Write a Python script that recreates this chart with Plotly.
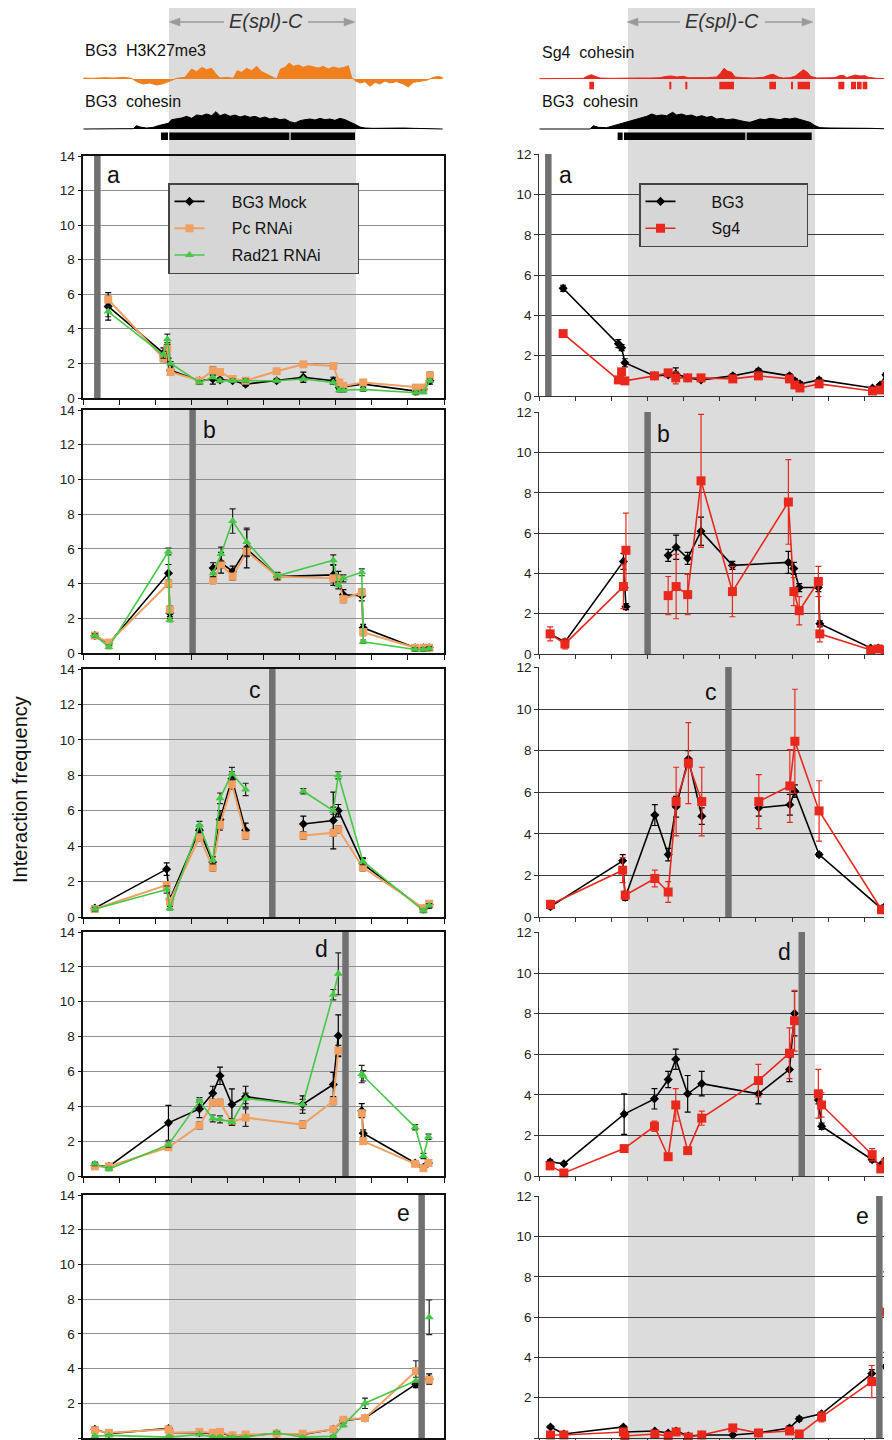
import plotly.graph_objects as go

# page offset of the plot div (default body margin) is compensated below
OFF = 8
W, H = 892 - OFF, 1440 - OFF
FONT = "Liberation Sans, Arial, sans-serif"

# ---------------- genome tracks (track coordinates) ----------------
h3k_pos = [250,280,310,340,370,395,410,430,450,470,490,510,530,555,575,590,605,620,635,648,660,680,700,712,725,740,755,770,785,800,815,830,842,855,868,880,895,910,925,940,955,970,985,1000,1015,1030,1045,1055,1065,1080,1095,1110,1125,1140,1155,1170,1190,1210,1225,1240,1260,1280,1300,1315,1328]
h3k_sig = [3,2,4,3,5,2,-8,-15,-12,-18,-14,-5,2,5,30,22,35,28,32,15,3,5,2,25,20,32,25,38,22,15,8,0,30,35,48,38,42,35,40,36,33,38,30,36,32,34,40,5,-5,-12,-8,-22,-10,-15,-6,-12,-8,-15,-24,-10,-6,-4,5,8,4]
coh_l_pos = [250,300,350,400,410,420,440,460,475,490,505,515,530,545,560,575,590,605,620,635,648,660,675,690,705,720,735,750,765,780,795,810,825,840,855,870,885,900,915,930,945,960,975,990,1005,1020,1035,1050,1065,1080,1095,1120,1150,1180,1210,1240,1270,1300,1328]
coh_l_sig = [0,0,0,1,10,6,3,5,10,14,17,28,30,33,38,32,42,40,45,40,52,40,45,38,42,36,40,35,38,32,36,30,33,28,30,22,18,25,28,30,27,32,28,30,26,32,28,22,14,6,3,2,3,2,3,2,1,1,0]
sg4_pos = [268,300,350,400,415,425,435,450,480,510,540,570,600,630,650,665,680,700,715,740,770,800,812,822,832,845,855,880,910,940,958,970,985,1000,1020,1035,1048,1060,1072,1082,1100,1130,1155,1168,1180,1190,1205,1215,1230,1245,1255,1280,1326]
sg4_sig = [1,1,1,2,10,13,8,3,2,3,2,3,3,4,8,9,6,8,4,3,4,6,18,32,24,20,6,4,3,5,12,14,6,3,4,8,18,28,20,8,3,3,4,10,11,4,10,12,9,10,5,2,1]
coh_r_pos = [268,420,430,445,470,490,510,530,545,560,575,590,605,620,635,650,668,680,695,710,725,740,755,770,785,800,815,830,850,870,885,900,915,930,945,960,975,990,1005,1020,1035,1050,1065,1080,1095,1110,1140,1170,1200,1230,1260,1326]
coh_r_sig = [0,0,10,5,4,10,15,20,25,30,35,38,45,40,42,40,50,42,45,40,42,36,40,35,38,30,32,28,30,25,22,20,26,30,28,32,30,28,32,30,33,28,25,20,10,4,3,3,2,3,2,0]
bg3_domain_l = [[483, 504], [508, 868], [872, 1065]]
bg3_domain_r = [[503, 518], [522, 886], [890, 1085]]
sg4_peaks = [[418,432],[658,664],[706,712],[808,852],[958,978],[1023,1029],[1043,1080],[1165,1183],[1203,1218],[1221,1235],[1238,1252]]

# ---------------- left column: BG3 Mock / Pc RNAi / Rad21 RNAi ----------------
la_x = [0.69, 2.22, 2.33, 2.42, 3.22, 3.59, 3.79, 4.14, 4.50, 5.36, 6.10, 6.93, 7.10, 7.21, 7.76, 9.22, 9.43, 9.61]
la_mock = [5.3, 2.6, 2.3, 1.6, 1.0, 1.1, 1.05, 1.0, 0.8, 1.0, 1.2, 1.0, 0.6, 0.65, 0.8, 0.4, 0.5, 1.0]
la_mock_e = [0.8, 0.3, 0.2, 0.2, 0.1, 0.3, 0.1, 0.1, 0.1, 0.1, 0.3, 0.2, 0.1, 0.1, 0.1, 0.1, 0.1, 0.2]
la_pc = [5.7, 2.3, 2.9, 1.5, 1.0, 1.6, 1.5, 1.1, 1.0, 1.55, 1.95, 1.85, 0.9, 0.7, 0.9, 0.6, 0.6, 1.3]
la_pc_e = [0.2, 0.2, 0.3, 0.1, 0.1, 0.2, 0.1, 0.1, 0.1, 0.1, 0.1, 0.1, 0.1, 0.1, 0.1, 0.1, 0.1, 0.2]
la_rad = [5.0, 2.5, 3.4, 2.0, 0.9, 1.2, 1.0, 1.0, 1.0, 1.0, 1.1, 0.9, 0.45, 0.45, 0.5, 0.3, 0.35, 1.0]
la_rad_e = [0.3, 0.2, 0.3, 0.1, 0.1, 0.1, 0.1, 0.1, 0.1, 0.1, 0.1, 0.1, 0.1, 0.1, 0.1, 0.1, 0.1, 0.1]

lb_x = [0.32, 0.71, 2.36, 2.40, 3.60, 3.82, 4.14, 4.53, 5.38, 6.93, 7.07, 7.21, 7.72, 7.76, 9.20, 9.43, 9.59]
lb_mock = [1.0, 0.55, 4.6, 2.3, 4.9, 5.2, 4.7, 6.0, 4.4, 4.5, 4.3, 3.35, 3.3, 1.45, 0.3, 0.3, 0.3]
lb_mock_e = [0.1, 0.1, 0.5, 0.2, 0.3, 0.6, 0.3, 1.1, 0.2, 0.6, 0.4, 0.3, 0.3, 0.2, 0.1, 0.1, 0.1]
lb_pc = [1.0, 0.6, 4.0, 2.5, 4.2, 5.1, 4.4, 5.85, 4.4, 4.3, 4.3, 3.1, 3.5, 1.2, 0.3, 0.3, 0.3]
lb_pc_e = [0.1, 0.1, 0.2, 0.2, 0.2, 0.2, 0.2, 0.3, 0.2, 0.2, 0.2, 0.2, 0.2, 0.2, 0.1, 0.1, 0.1]
lb_rad = [1.0, 0.35, 5.85, 1.9, 4.6, 5.7, 7.6, 6.4, 4.45, 5.35, 3.9, 4.3, 4.65, 0.65, 0.2, 0.2, 0.25]
lb_rad_e = [0.1, 0.1, 0.2, 0.1, 0.2, 0.4, 0.7, 0.8, 0.2, 0.3, 0.2, 0.2, 0.2, 0.1, 0.1, 0.1, 0.1]

lc_x = [0.32, 2.31, 2.40, 3.22, 3.59, 3.79, 4.12, 4.50, 6.10, 6.93, 7.07, 7.75, 9.43, 9.59]
lc_mock = [0.5, 2.7, 1.0, 4.9, 3.1, 5.5, 7.8, 4.9, 5.25, 5.45, 6.0, 3.0, 0.45, 0.7]
lc_mock_e = [0.1, 0.35, 0.2, 0.3, 0.3, 0.5, 0.4, 0.4, 0.45, 1.6, 0.35, 0.3, 0.1, 0.2]
lc_pc = [0.45, 1.8, 0.9, 4.5, 2.8, 5.2, 7.5, 4.6, 4.6, 4.75, 4.95, 2.8, 0.5, 0.75]
lc_pc_e = [0.1, 0.2, 0.2, 0.2, 0.2, 0.3, 0.3, 0.2, 0.2, 0.2, 0.2, 0.2, 0.1, 0.1]
lc_rad = [0.45, 1.55, 0.5, 5.2, 3.2, 6.7, 8.1, 7.2, 7.1, 6.0, 8.0, 3.15, 0.35, 0.65]
lc_rad_e = [0.1, 0.2, 0.1, 0.2, 0.2, 0.3, 0.35, 0.35, 0.15, 0.2, 0.2, 0.2, 0.1, 0.1]

ld_x = [0.32, 0.71, 2.36, 3.22, 3.59, 3.79, 4.12, 4.50, 6.08, 6.93, 7.07, 7.72, 7.76, 9.20, 9.43, 9.57]
ld_mock = [0.6, 0.55, 3.05, 3.85, 4.75, 5.75, 4.1, 4.55, 4.1, 5.25, 8.05, 3.75, 2.45, 0.75, 0.5, 0.75]
ld_mock_e = [0.1, 0.1, 1.0, 0.5, 0.4, 0.5, 0.9, 0.6, 0.5, 0.7, 1.2, 0.4, 0.2, 0.1, 0.1, 0.1]
ld_pc = [0.55, 0.55, 1.65, 2.9, 4.2, 4.2, 3.1, 3.35, 2.95, 4.3, 7.2, 3.6, 2.0, 0.7, 0.45, 0.75]
ld_pc_e = [0.1, 0.1, 0.15, 0.2, 0.2, 0.2, 0.2, 0.5, 0.2, 0.2, 0.3, 0.2, 0.15, 0.1, 0.1, 0.1]
ld_rad = [0.7, 0.4, 1.8, 4.3, 3.3, 3.25, 3.1, 4.45, 4.1, 10.4, 11.6, 5.85, 5.75, 2.8, 1.15, 2.25]
ld_rad_e = [0.1, 0.1, 0.15, 0.2, 0.2, 0.2, 0.2, 0.3, 0.3, 0.3, 1.2, 0.5, 0.3, 0.15, 0.15, 0.15]

le_x = [0.32, 0.71, 2.36, 2.40, 3.22, 3.59, 3.79, 4.14, 4.50, 5.36, 6.08, 6.93, 7.21, 7.81, 9.22, 9.59]
le_mock = [0.5, 0.25, 0.55, 0.3, 0.3, 0.25, 0.3, 0.1, 0.15, 0.25, 0.2, 0.5, 1.0, 1.15, 3.1, 3.4]
le_mock_e = [0.15, 0.05, 0.1, 0.05, 0.05, 0.05, 0.05, 0.05, 0.05, 0.05, 0.05, 0.1, 0.1, 0.1, 0.2, 0.3]
le_pc = [0.45, 0.3, 0.5, 0.3, 0.35, 0.3, 0.35, 0.15, 0.2, 0.25, 0.25, 0.5, 1.05, 1.15, 3.85, 3.35]
le_pc_e = [0.1, 0.05, 0.1, 0.05, 0.05, 0.05, 0.05, 0.05, 0.05, 0.05, 0.05, 0.1, 0.1, 0.1, 0.6, 0.2]
le_rad = [0.1, 0.15, 0.05, 0.05, 0.2, 0.05, 0.05, 0.05, 0.05, 0.3, 0.05, 0.1, 0.75, 2.0, 3.3, 6.95]
le_rad_e = [0.05, 0.05, 0.05, 0.05, 0.05, 0.05, 0.05, 0.05, 0.05, 0.05, 0.05, 0.05, 0.1, 0.3, 0.2, 1.0]

# viewpoint (anchor) positions
left_anchor = [0.39, 3.03, 5.24, 7.27, 9.38]
right_anchor = [0.25, 3.00, 5.24, 7.27, 9.42]
panel_letters = ["a", "b", "c", "d", "e"]

# ---------------- right column: BG3 / Sg4 ----------------
ra_x = [0.66, 2.19, 2.28, 2.37, 3.19, 3.57, 3.78, 4.11, 4.48, 5.36, 6.07, 6.93, 7.08, 7.22, 7.75, 9.23, 9.44, 9.60]
ra_bg3 = [5.35, 2.6, 2.4, 1.65, 1.0, 1.05, 1.1, 0.9, 0.8, 1.0, 1.25, 1.0, 0.75, 0.6, 0.8, 0.4, 0.55, 1.05]
ra_bg3_e = [0.15, 0.2, 0.15, 0.2, 0.05, 0.1, 0.3, 0.1, 0.05, 0.1, 0.1, 0.1, 0.1, 0.1, 0.1, 0.05, 0.05, 0.1]
ra_sg4 = [3.1, 0.8, 1.2, 0.75, 1.0, 1.15, 0.9, 0.9, 0.9, 0.85, 1.0, 0.85, 0.55, 0.4, 0.6, 0.25, 0.3, 0.55]
ra_sg4_e = [0.1, 0.1, 0.15, 0.1, 0.05, 0.1, 0.3, 0.1, 0.05, 0.05, 0.05, 0.05, 0.05, 0.05, 0.05, 0.05, 0.05, 0.05]

rb_x = [0.30, 0.71, 2.33, 2.40, 3.57, 3.79, 4.11, 4.48, 5.35, 6.90, 7.05, 7.20, 7.73, 7.77, 9.18, 9.39, 9.58]
rb_bg3 = [1.0, 0.6, 4.6, 2.35, 4.9, 5.3, 4.75, 6.1, 4.4, 4.55, 4.25, 3.3, 3.3, 1.5, 0.3, 0.3, 0.25]
rb_bg3_e = [0.1, 0.1, 0.4, 0.15, 0.3, 0.6, 0.3, 0.7, 0.2, 0.55, 0.3, 0.2, 0.2, 0.15, 0.05, 0.05, 0.05]
rb_sg4 = [1.0, 0.5, 3.35, 5.15, 2.9, 3.35, 2.95, 8.6, 3.1, 7.55, 3.1, 2.15, 3.6, 1.0, 0.2, 0.25, 0.2]
rb_sg4_e = [0.35, 0.25, 1.1, 1.85, 0.95, 1.6, 1.0, 3.3, 1.25, 2.1, 0.7, 0.7, 0.75, 0.4, 0.05, 0.05, 0.05]

rc_x = [0.31, 2.31, 2.38, 3.20, 3.57, 3.79, 4.13, 4.50, 6.08, 6.94, 7.08, 7.75, 9.48, 9.60]
rc_bg3 = [0.5, 2.7, 0.95, 4.9, 3.0, 5.3, 7.6, 4.85, 5.25, 5.4, 6.05, 3.0, 0.4, 0.55]
rc_bg3_e = [0.1, 0.3, 0.15, 0.5, 0.3, 0.5, 0.4, 0.4, 0.4, 0.5, 0.3, 0.1, 0.05, 0.05]
rc_sg4 = [0.6, 2.25, 1.05, 1.85, 1.2, 5.55, 7.4, 5.55, 5.55, 6.3, 8.45, 5.1, 0.35, 0.35]
rc_sg4_e = [0.2, 0.6, 0.2, 0.4, 0.5, 1.65, 1.95, 1.65, 1.3, 1.75, 2.5, 1.45, 0.05, 0.05]

rd_x = [0.30, 0.68, 2.35, 3.19, 3.57, 3.78, 4.11, 4.50, 6.07, 6.93, 7.07, 7.73, 7.82, 9.22, 9.46, 9.60]
rd_bg3 = [0.7, 0.6, 3.05, 3.8, 4.75, 5.75, 4.05, 4.55, 4.05, 5.25, 8.0, 3.75, 2.45, 0.8, 0.55, 0.8]
rd_bg3_e = [0.1, 0.05, 1.0, 0.5, 0.4, 0.5, 0.9, 0.6, 0.5, 0.6, 1.1, 0.2, 0.15, 0.1, 0.05, 0.1]
rd_sg4 = [0.5, 0.15, 1.35, 2.45, 0.95, 3.5, 1.25, 2.85, 4.7, 6.05, 7.65, 4.05, 3.5, 1.05, 0.35, 0.65]
rd_sg4_e = [0.1, 0.05, 0.1, 0.25, 0.05, 0.8, 0.1, 0.35, 0.8, 1.25, 1.5, 1.2, 0.6, 0.3, 0.05, 0.1]

re_x = [0.31, 0.68, 2.33, 2.37, 3.20, 3.57, 3.79, 4.13, 4.50, 5.36, 6.07, 6.93, 7.20, 7.82, 9.21, 9.60]
re_bg3 = [0.55, 0.2, 0.55, 0.3, 0.35, 0.25, 0.35, 0.1, 0.15, 0.15, 0.25, 0.5, 0.95, 1.2, 3.2, 3.55]
re_bg3_e = [0.05, 0.05, 0.05, 0.05, 0.05, 0.05, 0.05, 0.05, 0.05, 0.05, 0.05, 0.1, 0.1, 0.1, 0.2, 0.1]
re_sg4 = [0.15, 0.15, 0.3, 0.1, 0.2, 0.1, 0.3, 0.05, 0.15, 0.5, 0.25, 0.35, 0.2, 1.05, 2.8, 6.25]
re_sg4_e = [0.05, 0.05, 0.1, 0.05, 0.05, 0.05, 0.1, 0.05, 0.05, 0.1, 0.05, 0.1, 0.05, 0.25, 0.8, 2.0]

left_panels = [
    (la_x, [(la_mock, la_mock_e), (la_pc, la_pc_e), (la_rad, la_rad_e)]),
    (lb_x, [(lb_mock, lb_mock_e), (lb_pc, lb_pc_e), (lb_rad, lb_rad_e)]),
    (lc_x, [(lc_mock, lc_mock_e), (lc_pc, lc_pc_e), (lc_rad, lc_rad_e)]),
    (ld_x, [(ld_mock, ld_mock_e), (ld_pc, ld_pc_e), (ld_rad, ld_rad_e)]),
    (le_x, [(le_mock, le_mock_e), (le_pc, le_pc_e), (le_rad, le_rad_e)]),
]
right_panels = [
    (ra_x, [(ra_bg3, ra_bg3_e), (ra_sg4, ra_sg4_e)]),
    (rb_x, [(rb_bg3, rb_bg3_e), (rb_sg4, rb_sg4_e)]),
    (rc_x, [(rc_bg3, rc_bg3_e), (rc_sg4, rc_sg4_e)]),
    (rd_x, [(rd_bg3, rd_bg3_e), (rd_sg4, rd_sg4_e)]),
    (re_x, [(re_bg3, re_bg3_e), (re_sg4, re_sg4_e)]),
]

left_names = ["BG3 Mock", "Pc RNAi", "Rad21 RNAi"]
right_names = ["BG3", "Sg4"]
left_styles = [
    dict(color="#000000", symbol="diamond", size=7, lw=1.6, ecolor="#000000"),
    dict(color="#F0A062", symbol="square", size=8, lw=2.0, ecolor="#222222"),
    dict(color="#46C846", symbol="triangle-up", size=8, lw=1.6, ecolor="#222222"),
]
right_styles = [
    dict(color="#000000", symbol="diamond", size=7, lw=1.6, ecolor="#000000"),
    dict(color="#E8281C", symbol="square", size=9, lw=1.6, ecolor="#E8281C"),
]


# ---------------- geometry (page pixels -> paper) ----------------
def px_x(p):
    return (p - OFF) / W


def px_y(p):
    return 1 - (p - OFF) / H


def ydom(top_px, bot_px):
    return [px_y(bot_px), px_y(top_px)]


left_xdom = [px_x(83.3), px_x(444.0)]
right_xdom = [px_x(539.3), 1.0]
left_ydoms = [ydom(156, 398), ydom(410, 653), ydom(669, 917), ydom(932, 1176), ydom(1195, 1438)]
right_ydoms = [ydom(154, 396), ydom(412, 654), ydom(667, 917), ydom(932, 1176), ydom(1196, 1438)]
left_letter_pos = [(0.85, 12.9), (3.51, 12.85), (4.76, 12.8), (6.6, 13.0), (8.89, 12.95)]
right_letter_pos = [(0.73, 10.96), (3.45, 10.93), (4.76, 10.83), (6.79, 11.05), (8.95, 11.04)]


def gapped(xs, ys, es, anchor):
    X, Y, E = [], [], []
    for i in range(len(xs)):
        if i > 0 and xs[i - 1] < anchor < xs[i]:
            X.append(None); Y.append(None); E.append(None)
        X.append(xs[i]); Y.append(ys[i]); E.append(es[i])
    return X, Y, E


def ax_id(i):
    return "" if i == 1 else str(i)


nb = "\u00a0"
left_labels = [nb * 5 + "BG3 Mock" + nb * 9, nb * 5 + "Pc RNAi" + nb * 9, nb * 5 + "Rad21 RNAi" + nb * 7]
right_labels = [nb * 7 + "BG3" + nb * 13, nb * 7 + "Sg4" + nb * 13]

fig = go.Figure()
layout = {}
shapes = []
annotations = []

# ---- panels ----
for col in range(2):
    panels = left_panels if col == 0 else right_panels
    labels = left_labels if col == 0 else right_labels
    styles = left_styles if col == 0 else right_styles
    anchors = left_anchor if col == 0 else right_anchor
    ydoms = left_ydoms if col == 0 else right_ydoms
    letters_pos = left_letter_pos if col == 0 else right_letter_pos
    for p in range(5):
        idx = col * 5 + p + 1
        aid = ax_id(idx)
        xs, series = panels[p]
        for s, (ys, es) in enumerate(series):
            X, Y, E = gapped(xs, ys, es, anchors[p])
            st = styles[s]
            fig.add_trace(go.Scatter(
                x=X, y=Y, xaxis="x" + aid, yaxis="y" + aid,
                mode="lines+markers", name=labels[s],
                legend="legend" if col == 0 else "legend2",
                legendgroup=f"c{col}s{s}",
                showlegend=(p == 0), connectgaps=False, cliponaxis=False,
                line=dict(color=st["color"], width=st["lw"]),
                marker=dict(color=st["color"], symbol=st["symbol"], size=st["size"]),
                error_y=dict(type="data", array=E, visible=True, color=st["ecolor"],
                             thickness=1.2, width=3),
                hoverinfo="skip",
            ))
        if col == 0:
            xa = dict(domain=left_xdom, range=[0, 10], anchor="y" + aid,
                      showline=True, mirror=True, linecolor="#111", linewidth=1.6,
                      ticks="outside", tickvals=list(range(0, 11)), ticklen=5,
                      tickcolor="#111", showticklabels=False, showgrid=False, zeroline=False)
            ya = dict(domain=ydoms[p], range=[0, 14], anchor="x" + aid,
                      showline=True, mirror=True, linecolor="#111", linewidth=1.6,
                      ticks="outside", tickvals=list(range(0, 15, 2)), ticklen=4,
                      tickcolor="#111", showgrid=True, gridcolor="#8f8f8f", gridwidth=1.2,
                      zeroline=False, tickfont=dict(size=13.5, family=FONT, color="#222"))
        else:
            xa = dict(domain=right_xdom, range=[0, 9.77], anchor="y" + aid,
                      showline=True, mirror=False, linecolor="#333", linewidth=1.2,
                      ticks="outside", tickvals=list(range(0, 10)), ticklen=4,
                      tickcolor="#333", showticklabels=False, showgrid=False, zeroline=False)
            ya = dict(domain=ydoms[p], range=[0, 12.02], anchor="x" + aid,
                      showline=True, linecolor="#333", linewidth=1.2,
                      ticks="outside", tickvals=list(range(0, 13, 2)), ticklen=4,
                      tickcolor="#333", showgrid=True, gridcolor="#3c3c3c", gridwidth=1.2,
                      zeroline=False, tickfont=dict(size=13.5, family=FONT, color="#222"))
        layout["xaxis" + aid] = xa
        layout["yaxis" + aid] = ya
        a = anchors[p]
        shapes.append(dict(type="rect", xref="x" + aid, yref="y" + aid + " domain",
                           x0=a - 0.09, x1=a + 0.09, y0=0, y1=1,
                           fillcolor="#707070", line=dict(width=0), layer="above"))
        lx, ly = letters_pos[p]
        annotations.append(dict(x=lx, y=ly, xref="x" + aid, yref="y" + aid,
                                text=panel_letters[p], showarrow=False,
                                xanchor="center", yanchor="middle",
                                font=dict(size=23, family=FONT, color="#111")))

# ---- genome tracks ----
track_defs = [
    (11, [250, 1332], (60, 90), [-33, 57], h3k_pos, h3k_sig, "#F07F1E", left_xdom),
    (12, [250, 1332], (105, 131), [-6, 72], coh_l_pos, coh_l_sig, "#000000", left_xdom),
    (13, [268, 1326], (60, 90), [-33, 57], sg4_pos, sg4_sig, "#E8281C", right_xdom),
    (14, [268, 1326], (105, 131), [-6, 72], coh_r_pos, coh_r_sig, "#000000", right_xdom),
]
for idx, xr, (t, b), yr, pos, sig, colr, xd in track_defs:
    aid = ax_id(idx)
    fig.add_trace(go.Scatter(x=pos, y=sig, xaxis="x" + aid, yaxis="y" + aid,
                             mode="lines", fill="tozeroy", fillcolor=colr,
                             line=dict(color=colr, width=1), showlegend=False,
                             hoverinfo="skip"))
    layout["xaxis" + aid] = dict(domain=xd, range=xr, anchor="y" + aid, visible=False)
    layout["yaxis" + aid] = dict(domain=ydom(t, b), range=yr, anchor="x" + aid, visible=False)

for x0, x1 in bg3_domain_l:
    shapes.append(dict(type="rect", xref="x12", yref="paper", x0=x0, x1=x1,
                       y0=px_y(140), y1=px_y(132.5), fillcolor="#000", line=dict(width=0)))
for x0, x1 in bg3_domain_r:
    shapes.append(dict(type="rect", xref="x14", yref="paper", x0=x0, x1=x1,
                       y0=px_y(140), y1=px_y(132.5), fillcolor="#000", line=dict(width=0)))
for x0, x1 in sg4_peaks:
    shapes.append(dict(type="rect", xref="x13", yref="paper", x0=x0, x1=x1,
                       y0=px_y(89.3), y1=px_y(81.7), fillcolor="#E8281C", line=dict(width=0)))

# E(spl)-C shaded band through the whole column
for x0, x1 in [(169, 356), (628, 815)]:
    shapes.insert(0, dict(type="rect", xref="paper", yref="paper", x0=px_x(x0), x1=px_x(x1),
                          y0=0, y1=px_y(8), fillcolor="#dcdcdc", line=dict(width=0),
                          layer="below"))

hdr_font = dict(size=16, family=FONT, color="#111")
for txt, xpx, ypx in [("BG3" + nb * 2 + "H3K27me3", 83, 50), ("BG3" + nb * 2 + "cohesin", 83, 101),
                      ("Sg4" + nb * 2 + "cohesin", 540, 52), ("BG3" + nb * 2 + "cohesin", 540, 101)]:
    annotations.append(dict(x=px_x(xpx), y=px_y(ypx), xref="paper", yref="paper",
                            text=txt, showarrow=False, xanchor="left", yanchor="middle",
                            font=hdr_font))

# E(spl)-C label with double-headed grey arrow (line pieces + arrowheads)
ARW = "#9a9a9a"
ay_px = 22
for cx, lt, lr, rt, rr in [(266, 169, 224, 355, 308), (722, 627, 680, 813, 765)]:
    annotations.append(dict(x=px_x(cx), y=px_y(21), xref="paper", yref="paper",
                            text="<i>E(spl)-C</i>", showarrow=False,
                            xanchor="center", yanchor="middle",
                            font=dict(size=20, family=FONT, color="#333")))
    shapes.append(dict(type="line", xref="paper", yref="paper", x0=px_x(lt + 6), x1=px_x(lr),
                       y0=px_y(ay_px), y1=px_y(ay_px), line=dict(color=ARW, width=1.6)))
    shapes.append(dict(type="line", xref="paper", yref="paper", x0=px_x(rr), x1=px_x(rt - 6),
                       y0=px_y(ay_px), y1=px_y(ay_px), line=dict(color=ARW, width=1.6)))
    shapes.append(dict(type="path", xref="paper", yref="paper", fillcolor=ARW,
                       line=dict(color=ARW, width=0.5),
                       path=f"M {px_x(lt)},{px_y(ay_px)} L {px_x(lt + 11)},{px_y(ay_px - 4)} "
                            f"L {px_x(lt + 11)},{px_y(ay_px + 4)} Z"))
    shapes.append(dict(type="path", xref="paper", yref="paper", fillcolor=ARW,
                       line=dict(color=ARW, width=0.5),
                       path=f"M {px_x(rt)},{px_y(ay_px)} L {px_x(rt - 11)},{px_y(ay_px - 4)} "
                            f"L {px_x(rt - 11)},{px_y(ay_px + 4)} Z"))

annotations.append(dict(x=px_x(20), y=px_y(790), xref="paper", yref="paper",
                        text="Interaction frequency", textangle=-90, showarrow=False,
                        xanchor="center", yanchor="middle",
                        font=dict(size=20, family=FONT, color="#111")))

legend_common = dict(xanchor="left", yanchor="top", bgcolor="#d6d6d6", bordercolor="#444",
                     borderwidth=1.5, font=dict(size=16, family=FONT, color="#111"),
                     itemwidth=30, tracegroupgap=3)
fig.update_layout(
    width=W, height=H, margin=dict(l=0, r=0, t=0, b=0, pad=0, autoexpand=False),
    paper_bgcolor="white", plot_bgcolor="rgba(0,0,0,0)",
    font=dict(family=FONT),
    shapes=shapes, annotations=annotations,
    legend=dict(x=px_x(168), y=px_y(183), **legend_common),
    legend2=dict(x=px_x(639), y=px_y(183), **legend_common),
    **layout,
)
fig.write_html("out.html")
